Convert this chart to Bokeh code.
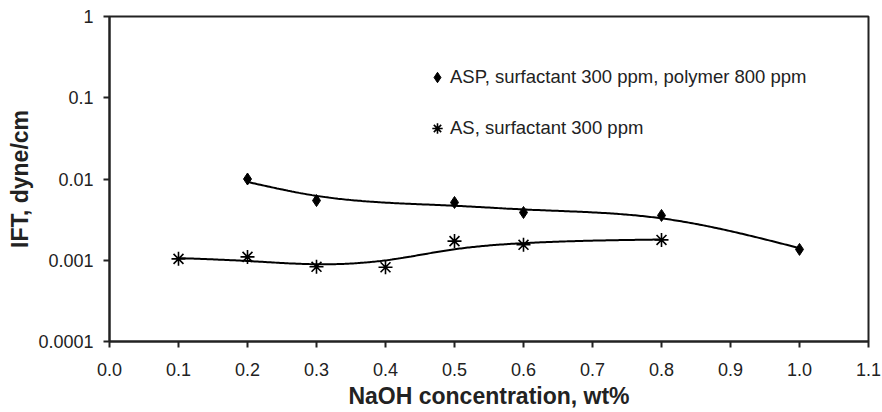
import numpy as np
from bokeh.plotting import figure
from bokeh.models import FixedTicker, Legend, LegendItem, Range1d
from bokeh.embed import file_html
from bokeh.resources import INLINE

# ---- data ----
x_asp = [0.2, 0.3, 0.5, 0.6, 0.8, 1.0]
ift_asp = [0.0100, 0.00543, 0.00514, 0.00387, 0.00356, 0.00136]

x_as = [0.1, 0.2, 0.3, 0.4, 0.5, 0.6, 0.8]
ift_as = [0.00104, 0.00110, 0.00083, 0.00082, 0.00172, 0.00155, 0.00178]

x_ticks = [0.0, 0.1, 0.2, 0.3, 0.4, 0.5, 0.6, 0.7, 0.8, 0.9, 1.0, 1.1]
y_ticks = [0.0001, 0.001, 0.01, 0.1, 1]
y_tick_labels = ["0.0001", "0.001", "0.01", "0.1", "1"]

label_asp = "ASP, surfactant 300 ppm, polymer 800 ppm"
label_as = "AS, surfactant 300 ppm"

FONT = "Liberation Sans"
TXT = "#222222"

p = figure(width=882, height=412, y_axis_type="log",
           x_range=Range1d(0, 1.1), y_range=Range1d(0.0001, 1),
           output_backend="svg", toolbar_location=None,
           min_border_left=109, min_border_right=14,
           min_border_top=16, min_border_bottom=71)

p.background_fill_color = "white"
p.border_fill_color = "white"
p.outline_line_color = TXT
p.outline_line_width = 2
p.grid.visible = False

p.xaxis.ticker = FixedTicker(ticks=x_ticks)
p.xaxis.major_label_overrides = {t: f"{t:.1f}" for t in x_ticks}
p.yaxis.ticker = FixedTicker(ticks=y_ticks)
p.yaxis.major_label_overrides = {t: l for t, l in zip(y_ticks, y_tick_labels)}

for ax in (p.xaxis, p.yaxis):
    ax.axis_line_color = TXT
    ax.axis_line_width = 2
    ax.major_tick_line_color = TXT
    ax.major_tick_line_width = 2
    ax.major_tick_in = 0
    ax.major_tick_out = 6
    ax.minor_tick_line_color = None
    ax.major_label_text_font = FONT
    ax.major_label_text_font_size = "18px"
    ax.major_label_text_color = TXT
    ax.axis_label_text_font = FONT
    ax.axis_label_text_font_size = "23px"
    ax.axis_label_text_font_style = "bold"
    ax.axis_label_text_color = TXT

p.xaxis.axis_label = "NaOH concentration, wt%"
p.yaxis.axis_label = "IFT, dyne/cm"
p.xaxis.major_label_standoff = 15
p.xaxis.axis_label_standoff = 4
p.yaxis.major_label_standoff = 10
p.yaxis.axis_label_standoff = 2


def smoothing_spline(xs, ys, alpha, num=300):
    """Natural cubic smoothing spline (Reinsch) of log10(y) against x."""
    x = np.asarray(xs, float)
    y = np.log10(np.asarray(ys, float))
    n = len(x)
    h = np.diff(x)
    Q = np.zeros((n, n - 2))
    R = np.zeros((n - 2, n - 2))
    for j in range(n - 2):
        Q[j, j] = 1 / h[j]
        Q[j + 1, j] = -1 / h[j] - 1 / h[j + 1]
        Q[j + 2, j] = 1 / h[j + 1]
        R[j, j] = (h[j] + h[j + 1]) / 3
        if j < n - 3:
            R[j, j + 1] = R[j + 1, j] = h[j + 1] / 6
    K = Q @ np.linalg.solve(R, Q.T)
    g = np.linalg.solve(np.eye(n) + alpha * K, y)
    gam = np.zeros(n)
    gam[1:-1] = np.linalg.solve(R, Q.T @ g)
    xx = np.linspace(x[0], x[-1], num)
    idx = np.clip(np.searchsorted(x, xx) - 1, 0, n - 2)
    x0, x1 = x[idx], x[idx + 1]
    hh = x1 - x0
    a, b = xx - x0, x1 - xx
    yy = (a * g[idx + 1] + b * g[idx]) / hh - a * b / 6 * (
        (1 + a / hh) * gam[idx + 1] + (1 + b / hh) * gam[idx])
    return xx, 10 ** yy


xa, ya = smoothing_spline(x_asp, ift_asp, 3e-4)
xb, yb = smoothing_spline(x_as, ift_as, 3e-4)
p.line(xa, ya, line_color="black", line_width=2)
p.line(xb, yb, line_color="black", line_width=2)

r_asp = p.scatter(x_asp, ift_asp, marker="diamond", size=12,
                  fill_color="black", line_color="black")
r_as = p.scatter(x_as, ift_as, marker="asterisk", size=14,
                 line_color="black", line_width=1.6)

legend = Legend(items=[LegendItem(label=label_asp, renderers=[r_asp]),
                       LegendItem(label=label_as, renderers=[r_as])],
                location=(315, 200), orientation="vertical",
                label_text_font=FONT, label_text_font_size="18.5px",
                label_text_color=TXT, glyph_width=26, glyph_height=26,
                label_standoff=0, spacing=25, padding=0, margin=0,
                border_line_color=None, background_fill_alpha=0)
p.add_layout(legend, "center")

open("out.html", "w").write(file_html(p, INLINE))
